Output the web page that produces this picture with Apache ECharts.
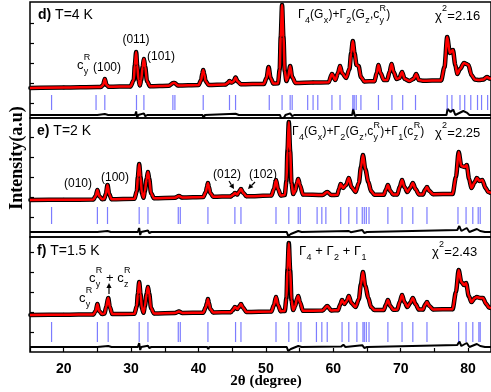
<!DOCTYPE html>
<html><head><meta charset="utf-8">
<script src="https://cdn.jsdelivr.net/npm/echarts@6/dist/echarts.min.js"></script>
<style>html,body{margin:0;padding:0;background:#fff}#c{width:491px;height:392px}</style>
</head><body><div id="c"></div><script>
// ---------- data (2θ in degrees, intensity in arbitrary units) ----------
const xTickLabels = [20, 30, 40, 50, 60, 70, 80];

// panel d) T=4 K
const profD = [[15,750],[20,770],[25,795],[25.5,800],[25.85,900],[26.1,1200],[26.35,900],[26.7,810],
 [29.9,830],[30.4,1150],[30.55,1900],[30.75,2550],[30.9,1900],[31.1,1150],[31.3,880],[31.5,1150],[31.7,1800],[31.9,2200],[32.1,1800],[32.35,1100],[32.8,840],
 [35.6,865],[36.25,1000],[36.45,1000],[37.0,870],
 [40.0,895],[40.4,1150],[40.55,1450],[40.7,1650],[40.85,1450],[41.05,1100],[41.5,900],
 [44.0,925],[44.35,1000],[44.6,1100],[44.9,1020],[45.2,1080],[45.5,1275],[45.8,1080],[46.3,935],
 [49.7,955],[50.1,1250],[50.4,1800],[50.7,1250],[51.1,975],
 [51.8,985],[52.05,1700],[52.2,3300],[52.4,4900],[52.6,3300],[52.8,1600],[53.05,1100],[53.3,1300],[53.6,1850],[53.9,1300],[54.4,1000],
 [57.0,1020],[59.3,1040],[59.8,1450],[60.3,1150],[60.7,1500],[61.0,1850],[61.3,1500],[61.9,1250],[62.4,1700],[62.65,2500],[62.9,3100],[63.15,2500],[63.45,1900],[63.75,1850],[64.1,1300],[64.6,1080],
 [66.1,1085],[66.45,1500],[66.7,1900],[67.0,1500],[67.5,1150],[68.0,1150],[68.35,1550],[68.65,1950],[68.95,1550],[69.4,1200],[69.8,1250],[70.2,1550],[70.6,1200],[71.3,1100],[71.9,1200],[72.3,1450],[72.7,1150],[73.3,1110],
 [76.0,1130],[76.5,1800],[76.9,3300],[77.3,2500],[77.75,2650],[78.1,1900],[78.4,1450],[78.8,1700],[79.4,2000],[79.75,1950],[80.05,1900],[80.5,1400],[81.0,1170],[81.6,1150],[82.3,1180],[82.8,1300],[83.2,1220],[83.4,1250]];
const diffD = [[15,-600],[25,-600],[26.1,-550],[26.3,-640],[26.6,-600],[30.6,-600],[30.75,-420],[30.9,-760],[31.05,-600],[31.9,-520],[32.1,-660],[32.4,-600],
 [40.6,-600],[40.75,-760],[40.95,-600],[45.5,-540],[45.7,-620],[46,-600],[52.1,-600],[52.3,-800],[52.5,-860],[52.7,-720],[52.9,-600],[53.6,-520],[53.9,-660],[54.2,-600],
 [62.8,-600],[62.95,-300],[63.2,-650],[63.5,-600],[76.8,-600],[76.95,-300],[77.4,-450],[77.8,-330],[78.1,-600],[79.3,-400],[79.8,-480],[80.2,-600],[83.4,-600]];
const braggD = [18.2,24.8,26.1,30.8,31.9,36.2,36.5,40.7,44.6,45.5,50.5,52.4,53.6,53.9,56.2,57.0,57.7,59.8,61.0,62.9,63.1,63.4,64.1,66.7,68.7,70.3,72.2,76.9,77.6,78.8,79.5,80.4,81.4,82.0,82.9];

// panel e) T=2 K
const profE = [[15,850],[20,860],[24.4,875],[24.75,1050],[25.0,1350],[25.25,1050],[25.7,890],[26.0,900],[26.25,1150],[26.5,1600],[26.75,1150],[27.1,890],
 [30.5,910],[30.85,1300],[31.0,2000],[31.2,2650],[31.4,2000],[31.6,1200],[31.85,960],[32.05,1300],[32.3,1900],[32.5,2250],[32.7,1900],[32.95,1200],[33.4,940],
 [36.5,960],[37.1,1050],[37.6,970],
 [40.7,995],[41.1,1250],[41.25,1500],[41.4,1700],[41.55,1500],[41.75,1200],[42.2,1010],
 [44.8,1030],[45.1,1100],[45.4,1200],[45.75,1120],[46.0,1250],[46.3,1400],[46.65,1200],[47.1,1040],
 [50.8,1070],[51.2,1400],[51.5,1850],[51.8,1400],[52.2,1080],
 [52.8,1100],[53.05,1800],[53.2,3300],[53.4,4750],[53.6,3300],[53.8,1700],[54.05,1150],[54.35,1300],[54.6,1700],[54.8,1900],[55.05,1600],[55.5,1120],
 [58.4,1100],[59.1,1250],[59.7,1100],
 [60.6,1110],[60.85,1400],[61.1,1650],[61.45,1450],[61.9,1600],[62.3,1950],[62.7,1500],[63.3,1250],[63.8,1700],[64.1,2500],[64.4,3100],[64.75,2400],[65.2,1750],[65.6,1300],[66.1,1110],
 [67.5,1110],[67.8,1350],[68.1,1600],[68.45,1300],[68.9,1120],
 [69.5,1130],[69.85,1500],[70.2,1850],[70.55,1500],[71.0,1250],[71.4,1450],[71.8,1700],[72.2,1400],[72.7,1130],
 [73.3,1130],[73.6,1350],[73.9,1500],[74.25,1300],[74.8,1140],
 [77.7,1150],[78.2,2000],[78.6,3250],[79.0,2550],[79.5,2500],[79.8,2600],[80.15,1900],[80.5,1450],[81.0,1750],[81.3,1950],[81.7,1800],[82.1,1850],[82.6,1450],[83.0,1250],[83.4,1200]];
const diffE = [[15,-750],[25,-750],[26.5,-700],[26.7,-790],[27,-750],[31.0,-750],[31.2,-550],[31.35,-900],[31.5,-750],[32.5,-680],[32.7,-800],[33,-750],
 [41.3,-750],[41.45,-850],[41.6,-750],[53.1,-750],[53.3,-950],[53.5,-1000],[53.7,-850],[53.9,-750],[54.8,-700],[55.0,-800],[55.3,-750],
 [62.3,-700],[62.6,-760],[64.3,-650],[64.6,-800],[65,-750],[78.4,-650],[78.7,-450],[79.0,-700],[79.8,-550],[80.2,-750],[81.3,-600],[81.8,-700],[82.5,-750],[83.4,-750]];
const braggE = [18.2,25.0,26.5,31.2,32.5,37.0,37.3,41.4,45.4,46.3,51.5,53.4,54.8,55.1,57.6,58.3,58.9,61.1,62.3,63.5,64.3,64.6,64.9,65.3,68.1,70.2,71.8,73.9,78.5,79.7,80.7,81.5,81.8];

// panel f) T=1.5 K
const profF = [[15,850],[20,860],[24.4,880],[24.75,1050],[25.0,1400],[25.25,1050],[25.7,895],[26.05,920],[26.3,1250],[26.6,1700],[26.85,1250],[27.2,900],
 [30.5,910],[30.85,1300],[31.0,1900],[31.2,2500],[31.4,1900],[31.6,1200],[31.85,960],[32.05,1300],[32.3,1900],[32.5,2250],[32.7,1900],[32.95,1200],[33.4,930],
 [36.5,950],[37.1,1020],[37.6,955],
 [40.7,965],[41.1,1250],[41.25,1450],[41.4,1650],[41.55,1450],[41.75,1150],[42.2,975],
 [44.8,990],[45.1,1100],[45.4,1250],[45.75,1150],[46.0,1250],[46.3,1400],[46.65,1200],[47.1,1000],
 [50.8,1020],[51.2,1350],[51.5,1750],[51.8,1350],[52.2,1040],
 [52.8,1050],[53.05,1700],[53.2,3100],[53.4,4450],[53.6,3100],[53.8,1600],[54.05,1100],[54.35,1300],[54.6,1650],[54.8,1800],[55.05,1500],[55.5,1060],
 [58.4,1070],[59.1,1300],[59.7,1080],
 [60.7,1090],[61.0,1350],[61.3,1600],[61.65,1400],[62.0,1550],[62.3,1800],[62.7,1450],[63.3,1250],[63.8,1650],[64.1,2400],[64.4,3000],[64.75,2300],[65.2,1700],[65.6,1250],[66.1,1100],
 [67.5,1100],[67.8,1350],[68.1,1600],[68.45,1300],[68.9,1110],
 [69.5,1120],[69.85,1500],[70.2,1850],[70.55,1500],[71.0,1250],[71.4,1450],[71.8,1700],[72.2,1400],[72.7,1120],
 [73.3,1120],[73.6,1350],[73.9,1500],[74.25,1300],[74.8,1130],
 [77.7,1140],[78.2,2000],[78.6,3100],[79.0,2500],[79.4,2350],[79.7,2450],[80.1,1800],[80.5,1500],[81.0,1700],[81.3,1750],[81.8,1700],[82.2,1700],[82.7,1400],[83.1,1220],[83.4,1200]];
const diffF = [[15,-750],[25,-750],[26.6,-700],[26.8,-790],[27.1,-750],[31.0,-750],[31.2,-560],[31.35,-900],[31.5,-750],[32.5,-690],[32.7,-800],[33,-750],
 [41.3,-750],[41.45,-860],[41.6,-750],[53.1,-750],[53.3,-950],[53.5,-1000],[53.7,-850],[53.9,-750],[54.8,-700],[55.0,-800],[55.3,-750],
 [61.2,-720],[61.5,-640],[61.8,-750],[64.3,-660],[64.6,-800],[65,-750],[78.4,-650],[78.7,-470],[79.0,-700],[79.8,-550],[80.2,-750],[81.3,-600],[81.8,-700],[82.5,-750],[83.4,-750]];
const braggF = [18.2,25.0,26.6,31.2,32.5,37.0,37.3,41.4,45.5,46.3,51.5,53.4,54.8,55.2,57.5,58.3,59.1,61.3,62.3,63.5,64.4,64.6,64.9,65.3,68.1,70.2,71.8,73.9,78.6,79.7,80.7,81.6,81.8];

const profiles = [profD, profE, profF];
const diffs = [diffD, diffE, diffF];
const braggs = [braggD, braggE, braggF];
const braggLevel = [25, 75, 0];
const yRanges = [[-750, 5050], [-1000, 4950], [-1000, 4750]];
const yTickValues = [[0,1000,2000,3000,4000],[0,1000,2000,3000,4000],[0,1000,2000,3000,4000]];

// ---------- layout / style ----------
const gridBoxes = [{top:2,height:116},{top:118,height:119},{top:237,height:115}];
const braggSize = [15, 17, 20];
const SANS = '"Liberation Sans", Arial, Helvetica, sans-serif';
const SERIF = '"Liberation Serif", "Times New Roman", serif';

const chart = echarts.init(document.getElementById('c'), null, {renderer:'canvas'});

const grids = gridBoxes.map(b => ({left:30, right:-2, top:b.top, height:b.height, show:true, borderColor:'#000', borderWidth:1.5, backgroundColor:'transparent'}));
const xAxes = [0,1,2].map(i => ({
  gridIndex:i, type:'value', min:15, max:83.4, interval:5, position:'bottom',
  axisLine:{show:false, onZero:false}, splitLine:{show:false},
  axisTick:{show:i===2, inside:true, length:4, lineStyle:{color:'#000', width:1.2}},
  axisLabel:{show:i===2, showMaxLabel:false, color:'#000', fontWeight:'bold', fontSize:14, fontFamily:SANS, margin:10,
    formatter: v => xTickLabels.indexOf(v) >= 0 ? String(v) : ''}
}));
const yAxes = [0,1,2].map(i => ({
  gridIndex:i, type:'value', min:yRanges[i][0], max:yRanges[i][1],
  axisLine:{show:false, onZero:false}, splitLine:{show:false}, axisLabel:{show:false},
  axisTick:{show:true, inside:true, length:4, customValues:yTickValues[i], lineStyle:{color:'#000', width:1.2}}
}));

const series = [];
[0,1,2].forEach(i => {
  series.push({type:'line', xAxisIndex:i, yAxisIndex:i, data:profiles[i], showSymbol:false, smooth:0.3, smoothMonotone:'x',
    lineStyle:{color:'#000', width:4.5}, z:2, silent:true});
  series.push({type:'scatter', xAxisIndex:i, yAxisIndex:i, data:profiles[i], symbol:'circle', symbolSize:4,
    itemStyle:{color:'#000'}, z:3, silent:true});
  series.push({type:'line', xAxisIndex:i, yAxisIndex:i, data:profiles[i], showSymbol:false, smooth:0.3, smoothMonotone:'x',
    lineStyle:{color:'#ff0000', width:2.5}, z:4, silent:true});
  series.push({type:'scatter', xAxisIndex:i, yAxisIndex:i, data:braggs[i].map(p => [p, braggLevel[i]]), symbol:'rect', symbolSize:[1.2, braggSize[i]],
    itemStyle:{color:'rgba(50,50,255,0.8)'}, z:2, silent:true});
  series.push({type:'line', xAxisIndex:i, yAxisIndex:i, data:diffs[i], showSymbol:false,
    lineStyle:{color:'#000', width:2}, z:2, silent:true});
});

// ---------- text helpers ----------
const mctx = document.createElement('canvas').getContext('2d');
function fontStr(size, bold, fam){ return (bold ? 'bold ' : '') + size + 'px ' + (fam || SANS); }
function tw(t, size, bold, fam){ mctx.font = fontStr(size, bold, fam); return mctx.measureText(t).width; }
function txt(t, x, y, size, bold, align, fam){
  return {type:'text', z:100, zlevel:1, style:{text:t, x:x, y:y, font:fontStr(size, bold, fam), fill:'#000',
    textAlign:align||'left', textVerticalAlign:'middle', align:align||'left', verticalAlign:'middle'}};
}
// tokens: string = normal; {b:sub, p:sup} = scripts (stacked when both)
function formula(tokens, x, y, size){
  const els = []; const ss = Math.round(size*0.72); let cx = x;
  tokens.forEach(tk => {
    if (typeof tk === 'string'){ els.push(txt(tk, cx, y, size)); cx += tw(tk, size); }
    else {
      let w = 0;
      if (tk.b != null){ els.push(txt(tk.b, cx+0.3, y+size*0.5, ss)); w = Math.max(w, tw(tk.b, ss)); }
      if (tk.p != null){ els.push(txt(tk.p, cx+0.3, y-size*0.55, ss)); w = Math.max(w, tw(tk.p, ss)); }
      cx += w + 0.5;
    }
  });
  return els;
}
function arrow(x1, y1, x2, y2){
  const a = Math.atan2(y2-y1, x2-x1), L = 5, W = 2.6;
  const bx = x2 - L*Math.cos(a), by = y2 - L*Math.sin(a);
  return [
    {type:'line', z:100, zlevel:1, shape:{x1:x1, y1:y1, x2:bx, y2:by}, style:{stroke:'#000', lineWidth:1.2}},
    {type:'polygon', z:100, zlevel:1, shape:{points:[[x2,y2],[bx - W*Math.sin(a), by + W*Math.cos(a)],[bx + W*Math.sin(a), by - W*Math.cos(a)]]}, style:{fill:'#000'}}
  ];
}
function panelLabel(letter, rest, x, y){
  const w = tw(letter, 14, true);
  return [txt(letter, x, y, 14, true), txt(rest, x + w, y, 14, false)];
}

let g = [];
// panel labels
g = g.concat(panelLabel('d)', ' T=4 K', 38, 15));
g = g.concat(panelLabel('e)', ' T=2 K', 37, 131));
g = g.concat(panelLabel('f)', ' T=1.5 K', 37, 251));
// panel d annotations
g.push(txt('(011)', 136, 40, 12, false, 'center'));
g.push(txt('(101)', 161, 57, 12, false, 'center'));
g = g.concat(formula(['c', {b:'y', p:'R'}], 77, 65, 13));
g.push(txt('(100)', 107, 68, 12, false, 'center'));
g = g.concat(formula(['Γ', {b:'4'}, '(G', {b:'x'}, ')+Γ', {b:'2'}, '(G', {b:'z'}, ',c', {b:'y', p:'R'}, ')'], 298, 15, 12));
g = g.concat(formula(['χ', {p:'2'}, '=2.16'], 435, 16, 13));
// panel e annotations
g.push(txt('(010)', 78, 184, 12, false, 'center'));
g.push(txt('(100)', 115, 178, 12, false, 'center'));
g.push(txt('(012)', 227, 175, 12, false, 'center'));
g.push(txt('(102)', 263, 175, 12, false, 'center'));
g = g.concat(arrow(229, 181, 234, 189));
g = g.concat(arrow(255, 182, 248, 189));
g = g.concat(formula(['Γ', {b:'4'}, '(G', {b:'x'}, ')+Γ', {b:'2'}, '(G', {b:'z'}, ',c', {b:'y', p:'R'}, ')+Γ', {b:'1'}, '(c', {b:'z', p:'R'}, ')'], 292, 132, 12));
g = g.concat(formula(['χ', {p:'2'}, '=2.25'], 435, 133, 13));
// panel f annotations
g = g.concat(formula(['c', {b:'y', p:'R'}, ' + c', {b:'z', p:'R'}], 89, 278, 13));
g = g.concat(formula(['c', {b:'y', p:'R'}], 79, 298, 13));
g = g.concat(arrow(109, 294, 109, 283));
g = g.concat(formula(['Γ', {b:'4'}, ' + Γ', {b:'2'}, ' + Γ', {b:'1'}], 299, 251, 13));
g = g.concat(formula(['χ', {p:'2'}, '=2.43'], 432, 252, 13));
// axis titles
g.push({type:'text', z:100, zlevel:1, x:17, y:158, rotation:Math.PI/2, style:{text:'Intensity(a.u)', x:0, y:0, font:fontStr(18, true, SERIF), fill:'#000',
  textAlign:'center', textVerticalAlign:'middle', align:'center', verticalAlign:'middle'}});
g.push(txt('2θ (degree)', 266, 381, 15, true, 'center', SERIF));

chart.setOption({animation:false, backgroundColor:'#fff', grid:grids, xAxis:xAxes, yAxis:yAxes, series:series, graphic:{elements:g}});
</script></body></html>
